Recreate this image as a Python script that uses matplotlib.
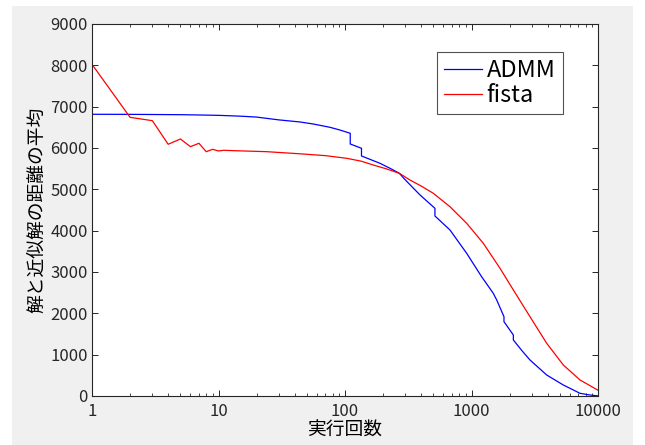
import matplotlib
matplotlib.use("Agg")
import matplotlib.pyplot as plt
from matplotlib.patches import Rectangle

plt.rcParams["font.family"] = ["Noto Sans CJK JP", "DejaVu Sans"]

# ADMM curve (repeated x values are the vertical steps)
admm_x = [1, 2, 5, 7, 10, 15, 20, 30, 44, 56, 76, 90, 110, 110, 135, 135, 189, 230,
          269, 295, 392, 514, 514, 676, 916, 1200, 1487, 1582, 1806, 1806, 2142, 2142,
          2500, 2900, 3930, 5320, 7210, 8650, 10000]
admm_y = [6816, 6814, 6806, 6799, 6790, 6770, 6748, 6680, 6630, 6581, 6501, 6440, 6356,
          6097, 5993, 5807, 5630, 5500, 5388, 5250, 4863, 4541, 4355, 4016, 3452, 2890,
          2484, 2323, 1919, 1798, 1476, 1355, 1100, 871, 508, 266, 65, 24, 3]

# fista curve
fista_x = [1, 2, 3, 4, 5, 6, 7, 8, 9, 10, 11, 13, 24, 44, 70, 103, 135, 167, 210, 269,
           326, 400, 499, 676, 916, 1240, 1680, 2142, 2900, 3930, 5320, 7210, 10000]
fista_y = [8024, 6742, 6661, 6090, 6218, 6032, 6114, 5911, 5968, 5928, 5945, 5936, 5911,
           5860, 5815, 5751, 5680, 5589, 5500, 5388, 5226, 5080, 4904, 4580, 4178, 3694,
           3090, 2565, 1919, 1275, 750, 387, 140]

y_ticks = list(range(0, 9001, 1000))
x_ticks = [1, 10, 100, 1000, 10000]
x_tick_labels = ["1", "10", "100", "1000", "10000"]

fig = plt.figure(figsize=(6.45, 4.45), dpi=100)
fig.patches.append(Rectangle((12 / 645, 0), 621 / 645, 439 / 445, transform=fig.transFigure,
                             facecolor="#f0f0f0", edgecolor="none", zorder=-10))
ax = fig.add_axes([92 / 645, 49 / 445, 506 / 645, 372 / 445])

ax.plot(admm_x, admm_y, color="#0000ff", lw=0.9, label="ADMM")
ax.plot(fista_x, fista_y, color="#ff0000", lw=0.9, label="fista")

ax.set_xscale("log")
ax.set_xlim(1, 10000)
ax.set_ylim(0, 9000)
ax.set_xticks(x_ticks)
ax.set_xticklabels(x_tick_labels)
ax.set_yticks(y_ticks)
ax.set_yticklabels([str(v) for v in y_ticks])

for s in ax.spines.values():
    s.set_color("#262626")
    s.set_linewidth(0.8)
ax.tick_params(which="both", direction="in", top=True, right=True, colors="#262626",
               labelsize=12, labelcolor="#262626")
ax.tick_params(which="major", length=4, width=0.7)
ax.tick_params(which="minor", length=2.5, width=0.6)
ax.tick_params(axis="x", pad=5)
ax.tick_params(axis="y", pad=3)

ax.set_xlabel("実行回数", fontsize=13.5, labelpad=0)
ax.set_ylabel("解と近似解の距離の平均", fontsize=13.5, labelpad=2)

leg = ax.legend(loc="upper right", bbox_to_anchor=(0.93, 0.925), fontsize=17,
                frameon=True, fancybox=False, handlelength=1.6, handletextpad=0.2,
                borderpad=0.3, labelspacing=0.1, borderaxespad=0)
leg.get_frame().set_edgecolor("#262626")
leg.get_frame().set_linewidth(0.8)

fig.savefig("out.png", dpi=100)
